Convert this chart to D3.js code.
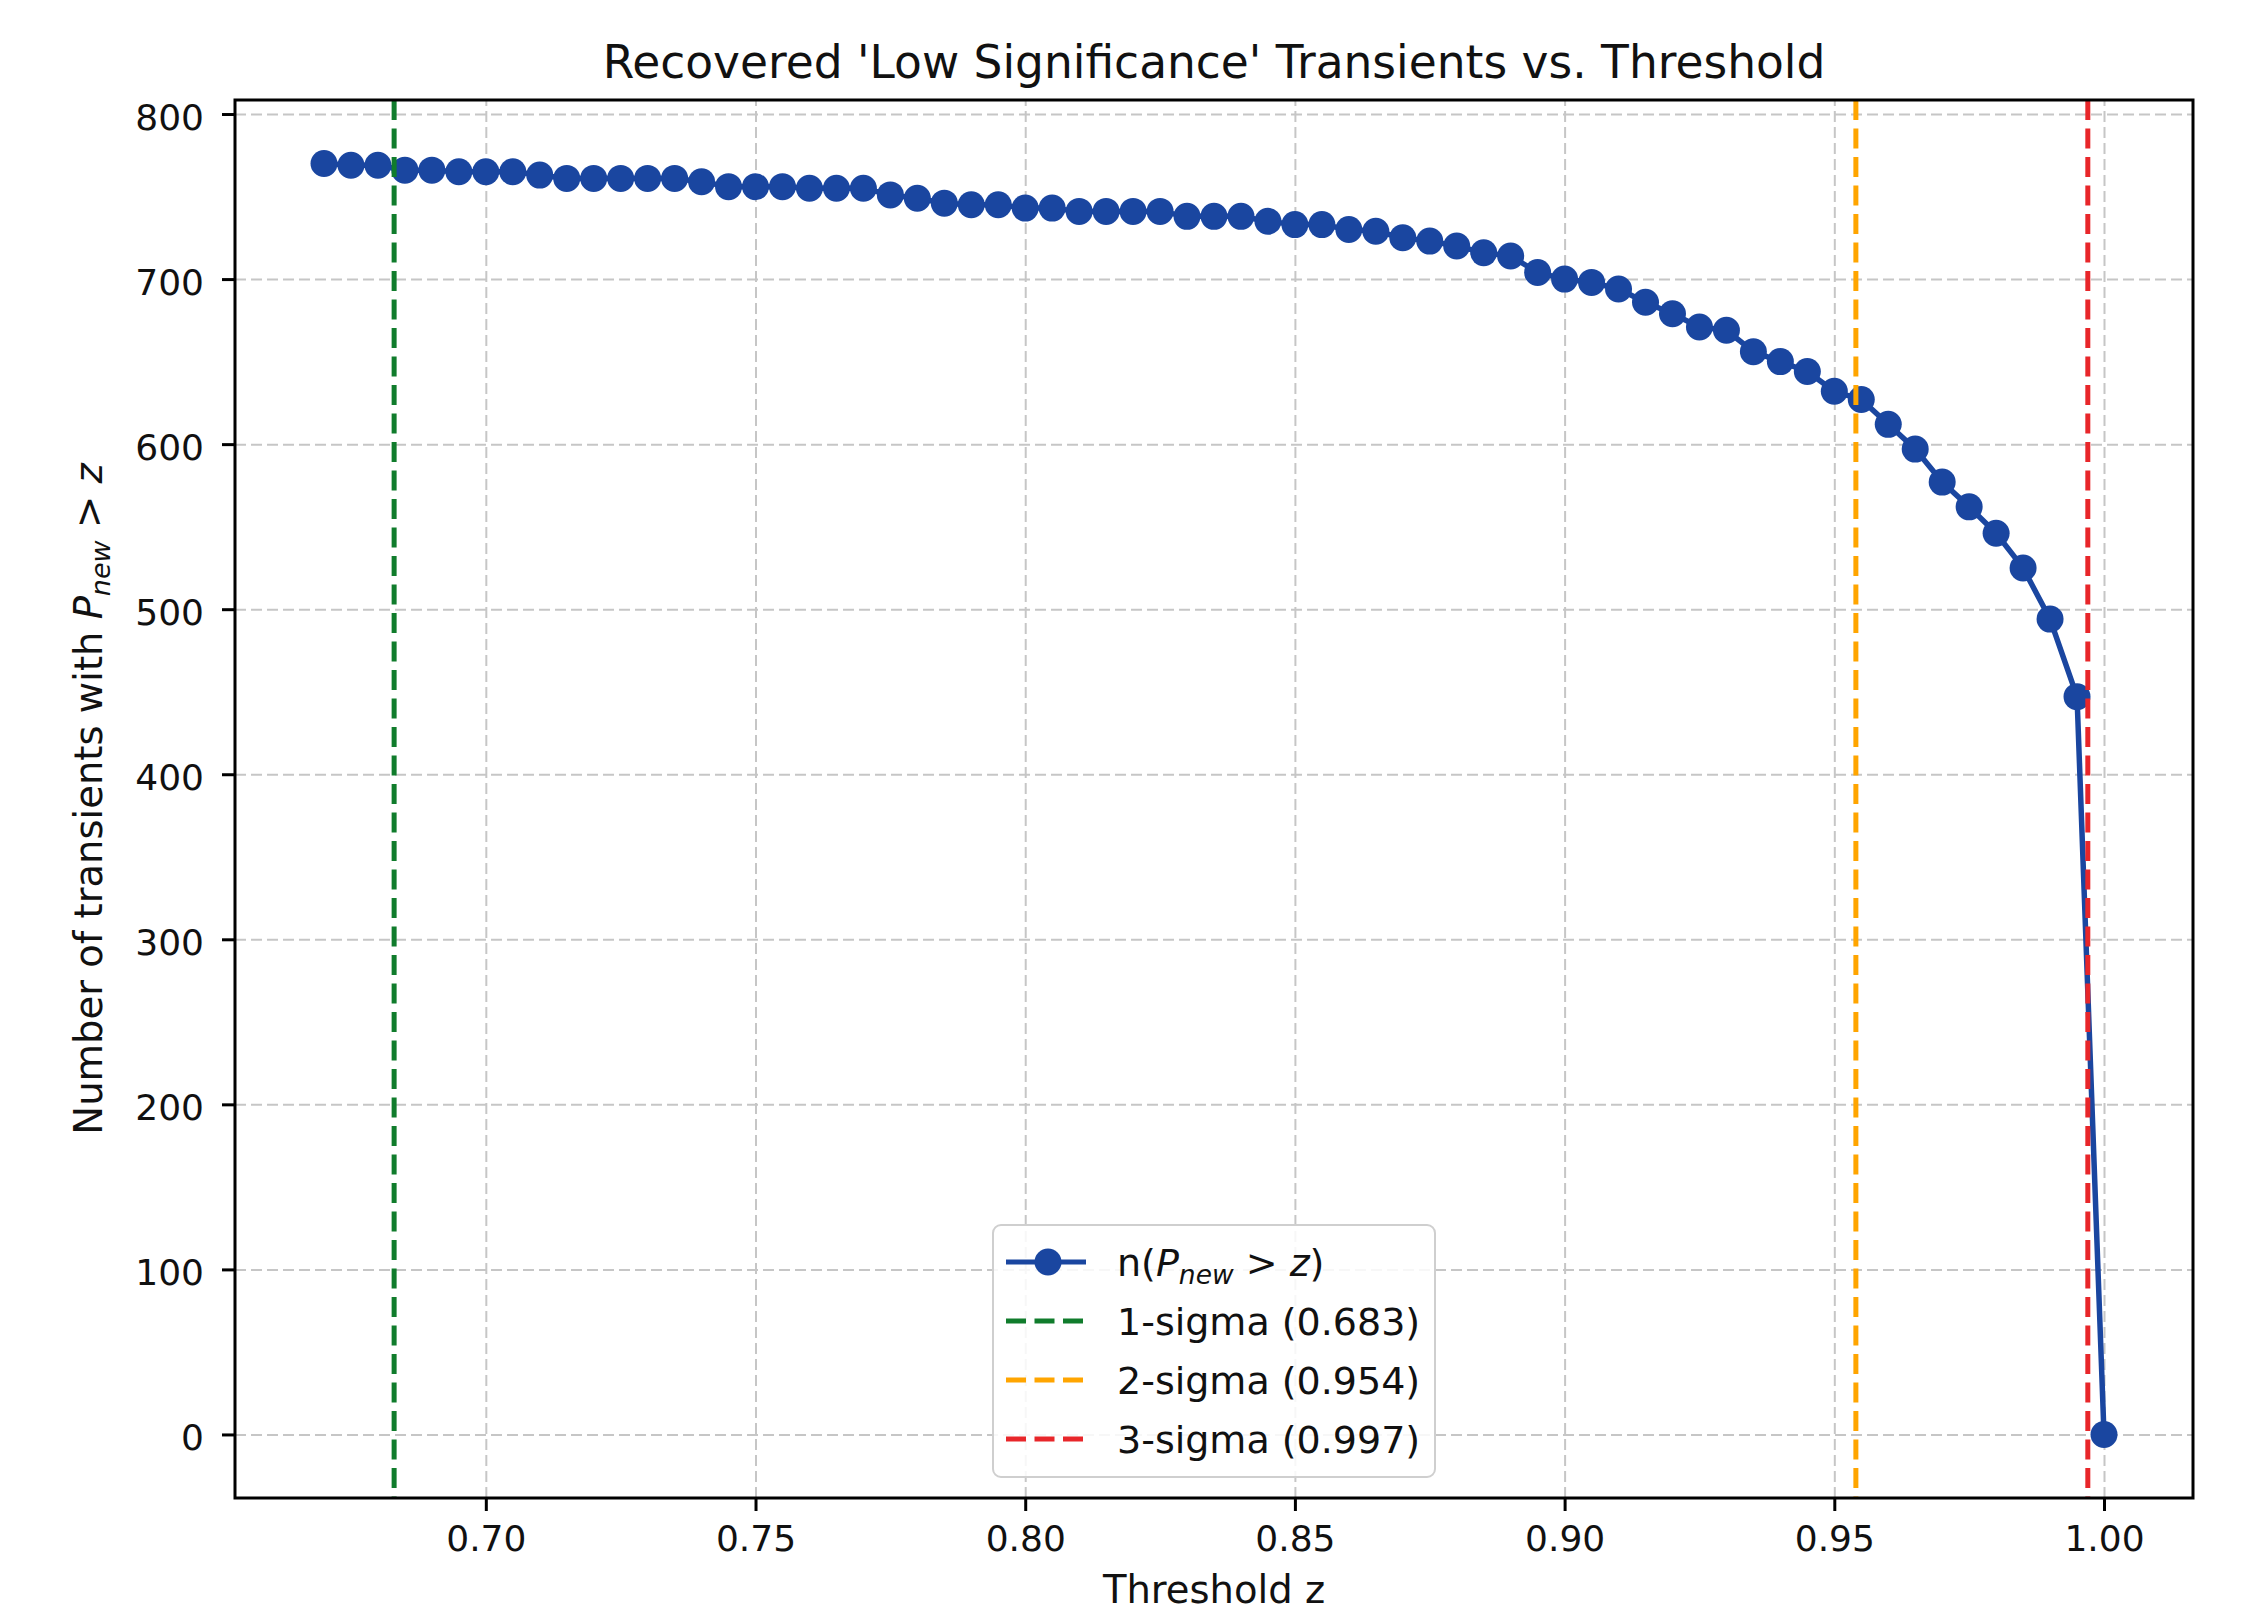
<!DOCTYPE html>
<html>
<head>
<meta charset="utf-8">
<script src="https://cdn.jsdelivr.net/npm/d3@7"></script>
<style>
  body { margin: 0; background: #ffffff; }
  svg text { font-family: "DejaVu Sans", sans-serif; fill: #111111; }
</style>
</head>
<body>
<div id="canevas"></div>
<script>

////////////////////////////////////////////////////////////////////////////////////////////
//                                        données                                         //
////////////////////////////////////////////////////////////////////////////////////////////

// seuils z (axe x)
let seuils = [0.670, 0.675, 0.680, 0.685, 0.690, 0.695, 0.700, 0.705, 0.710, 0.715,
              0.720, 0.725, 0.730, 0.735, 0.740, 0.745, 0.750, 0.755, 0.760, 0.765,
              0.770, 0.775, 0.780, 0.785, 0.790, 0.795, 0.800, 0.805, 0.810, 0.815,
              0.820, 0.825, 0.830, 0.835, 0.840, 0.845, 0.850, 0.855, 0.860, 0.865,
              0.870, 0.875, 0.880, 0.885, 0.890, 0.895, 0.900, 0.905, 0.910, 0.915,
              0.920, 0.925, 0.930, 0.935, 0.940, 0.945, 0.950, 0.955, 0.960, 0.965,
              0.970, 0.975, 0.980, 0.985, 0.990, 0.995, 1.000];

// nombre de transitoires avec P_new > z
let comptes = [770, 769, 769, 766, 766, 765, 765, 765, 763, 761,
               761, 761, 761, 761, 759, 756, 756, 756, 755, 755,
               755, 751, 749, 746, 745, 745, 743, 743, 741, 741,
               741, 741, 738, 738, 738, 735, 733, 733, 730, 729,
               725, 723, 720, 716, 714, 704, 700, 698, 694, 686,
               679, 671, 669, 656, 650, 644, 632, 627, 612, 597,
               577, 562, 546, 525, 494, 447, 0];

// lignes sigma
let sigmas = [0.683, 0.954, 0.997];
let sigmaNoms = ["1-sigma (0.683)", "2-sigma (0.954)", "3-sigma (0.997)"];
let sigmaCouleurs = ["#107c2c", "#ffa500", "#e8262a"];

// graduations
let xGraduations = [0.70, 0.75, 0.80, 0.85, 0.90, 0.95, 1.00];
let yGraduations = [0, 100, 200, 300, 400, 500, 600, 700, 800];

let titre = "Recovered 'Low Significance' Transients vs. Threshold";
let bleu = "#1a46a0";


////////////////////////////////////////////////////////////////////////////////////////////
//                                        canevas                                         //
////////////////////////////////////////////////////////////////////////////////////////////

let largeur = 2248;
let hauteur = 1605;
let cadre = {gauche: 235, droite: 2193, haut: 100, bas: 1498};

let canevas = d3.select("#canevas")
	.append("svg")
	.attr("width", largeur)
	.attr("height", hauteur);

canevas.append("rect")
    .attr("width", "100%")
    .attr("height", "100%")
    .attr("fill", "#ffffff");

// echelles (marge de 5% comme matplotlib)
let xLim = d3.extent(seuils);
let dx = (xLim[1] - xLim[0]) * 0.05;
let echelleX = d3.scaleLinear()
	.domain([xLim[0] - dx, xLim[1] + dx])
	.range([cadre.gauche, cadre.droite]);

let yMax = d3.max(comptes);
let yMin = d3.min(comptes);
let dy = (yMax - yMin) * 0.05;
let echelleY = d3.scaleLinear()
	.domain([yMin - dy, yMax + dy])
	.range([cadre.bas, cadre.haut]);


////////////////////////////////////////////////////////////////////////////////////////////
//                                        grille                                          //
////////////////////////////////////////////////////////////////////////////////////////////

let grille = canevas.append("g");

grille.append("g")
	.attr("transform", `translate(0,${cadre.bas})`)
	.call(d3.axisBottom(echelleX).tickValues(xGraduations).tickSize(-(cadre.bas - cadre.haut)).tickFormat(""))
	.call(g => g.select(".domain").remove());

grille.append("g")
	.attr("transform", `translate(${cadre.gauche},0)`)
	.call(d3.axisLeft(echelleY).tickValues(yGraduations).tickSize(-(cadre.droite - cadre.gauche)).tickFormat(""))
	.call(g => g.select(".domain").remove());

grille.selectAll("line")
	.attr("stroke", "#c6c6c6")
	.attr("stroke-width", 2)
	.attr("stroke-dasharray", "11,5");


////////////////////////////////////////////////////////////////////////////////////////////
//                                        courbe                                          //
////////////////////////////////////////////////////////////////////////////////////////////

let points = seuils.map((s, i) => ({z: s, n: comptes[i]}));

let ligne = d3.line()
	.x(d => echelleX(d.z))
	.y(d => echelleY(d.n));

canevas.append("path")
	.datum(points)
	.attr("d", ligne)
	.attr("fill", "none")
	.attr("stroke", bleu)
	.attr("stroke-width", 5.5)
	.attr("stroke-linejoin", "round");

canevas.selectAll("circle.point")
	.data(points)
	.enter()
	.append("circle")
	  .attr("class", "point")
	  .attr("cx", d => echelleX(d.z))
	  .attr("cy", d => echelleY(d.n))
	  .attr("r", 13.5)
	  .attr("fill", bleu);

// lignes verticales sigma (par-dessus la courbe)
canevas.selectAll("line.sigma")
	.data(sigmas)
	.enter()
	.append("line")
	  .attr("class", "sigma")
	  .attr("x1", d => echelleX(d))
	  .attr("x2", d => echelleX(d))
	  .attr("y1", cadre.haut)
	  .attr("y2", cadre.bas)
	  .attr("stroke", (d, i) => sigmaCouleurs[i])
	  .attr("stroke-width", 5)
	  .attr("stroke-dasharray", "20,8.5");


////////////////////////////////////////////////////////////////////////////////////////////
//                                        axes                                            //
////////////////////////////////////////////////////////////////////////////////////////////

let axeX = canevas.append("g")
	.attr("transform", `translate(0,${cadre.bas})`)
	.call(d3.axisBottom(echelleX).tickValues(xGraduations).tickFormat(d3.format(".2f")).tickSize(13).tickSizeOuter(0));
axeX.select(".domain").remove();
axeX.selectAll("text")
	.attr("y", 53)
	.attr("dy", null)
	.attr("font-size", 36)
	.attr("fill", "#111111");

let axeY = canevas.append("g")
	.attr("transform", `translate(${cadre.gauche},0)`)
	.call(d3.axisLeft(echelleY).tickValues(yGraduations).tickSize(13).tickSizeOuter(0));
axeY.select(".domain").remove();
axeY.selectAll("text")
	.attr("x", -31)
	.attr("dy", 15)
	.attr("font-size", 36)
	.attr("fill", "#111111");

canevas.selectAll(".tick line")
	.filter(function() { return !grille.node().contains(this); })
	.attr("stroke", "#000000")
	.attr("stroke-width", 3);

// cadre
canevas.append("rect")
	.attr("x", cadre.gauche)
	.attr("y", cadre.haut)
	.attr("width", cadre.droite - cadre.gauche)
	.attr("height", cadre.bas - cadre.haut)
	.attr("fill", "none")
	.attr("stroke", "#000000")
	.attr("stroke-width", 3);

// titre
canevas.append("text")
	.attr("x", (cadre.gauche + cadre.droite) / 2)
	.attr("y", 78)
	.attr("text-anchor", "middle")
	.attr("font-size", 45.5)
	.text(titre);

// label x (coupé en bas, comme l'original)
canevas.append("text")
	.attr("x", (cadre.gauche + cadre.droite) / 2)
	.attr("y", 1603)
	.attr("text-anchor", "middle")
	.attr("font-size", 38.5)
	.text("Threshold z");

// label y (avec P_new en italique)
let labelY = canevas.append("text")
	.attr("transform", `translate(102,${(cadre.haut + cadre.bas) / 2}) rotate(-90)`)
	.attr("text-anchor", "middle")
	.attr("font-size", 38.5);
labelY.append("tspan").text("Number of transients with ");
labelY.append("tspan").attr("font-style", "italic").text("P");
labelY.append("tspan").attr("font-style", "italic").attr("font-size", 27).attr("dy", 8).text("new");
labelY.append("tspan").attr("dy", -8).text(" > ");
labelY.append("tspan").attr("font-style", "italic").text("z");


////////////////////////////////////////////////////////////////////////////////////////////
//                                        légende                                         //
////////////////////////////////////////////////////////////////////////////////////////////

let legende = canevas.append("g").attr("transform", "translate(993,1225)");

legende.append("rect")
	.attr("width", 442)
	.attr("height", 252)
	.attr("rx", 8)
	.attr("fill", "#ffffff")
	.attr("fill-opacity", 0.85)
	.attr("stroke", "#cfcfcf")
	.attr("stroke-width", 2);

let entrees = [{nom: null, couleur: bleu, pointille: false}]
	.concat(sigmaNoms.map((nom, i) => ({nom: nom, couleur: sigmaCouleurs[i], pointille: true})));

let rangees = legende.selectAll("g.entree")
	.data(entrees)
	.enter()
	.append("g")
	  .attr("class", "entree")
	  .attr("transform", (d, i) => `translate(0,${37 + i * 59})`);

rangees.append("line")
	.attr("x1", 13)
	.attr("x2", 93)
	.attr("stroke", d => d.couleur)
	.attr("stroke-width", 5)
	.attr("stroke-dasharray", d => d.pointille ? "20,8.5" : null);

rangees.filter(d => !d.pointille)
	.append("circle")
	.attr("cx", 55)
	.attr("r", 13.5)
	.attr("fill", bleu);

rangees.filter(d => d.pointille)
	.append("text")
	.attr("x", 124)
	.attr("y", 14)
	.attr("font-size", 38)
	.text(d => d.nom);

let texteCourbe = rangees.filter(d => !d.pointille)
	.append("text")
	.attr("x", 124)
	.attr("y", 14)
	.attr("font-size", 38);
texteCourbe.append("tspan").text("n(");
texteCourbe.append("tspan").attr("font-style", "italic").text("P");
texteCourbe.append("tspan").attr("font-style", "italic").attr("font-size", 26.5).attr("dy", 8).text("new");
texteCourbe.append("tspan").attr("dy", -8).text(" > ");
texteCourbe.append("tspan").attr("font-style", "italic").text("z");
texteCourbe.append("tspan").text(")");

</script>
</body>
</html>
